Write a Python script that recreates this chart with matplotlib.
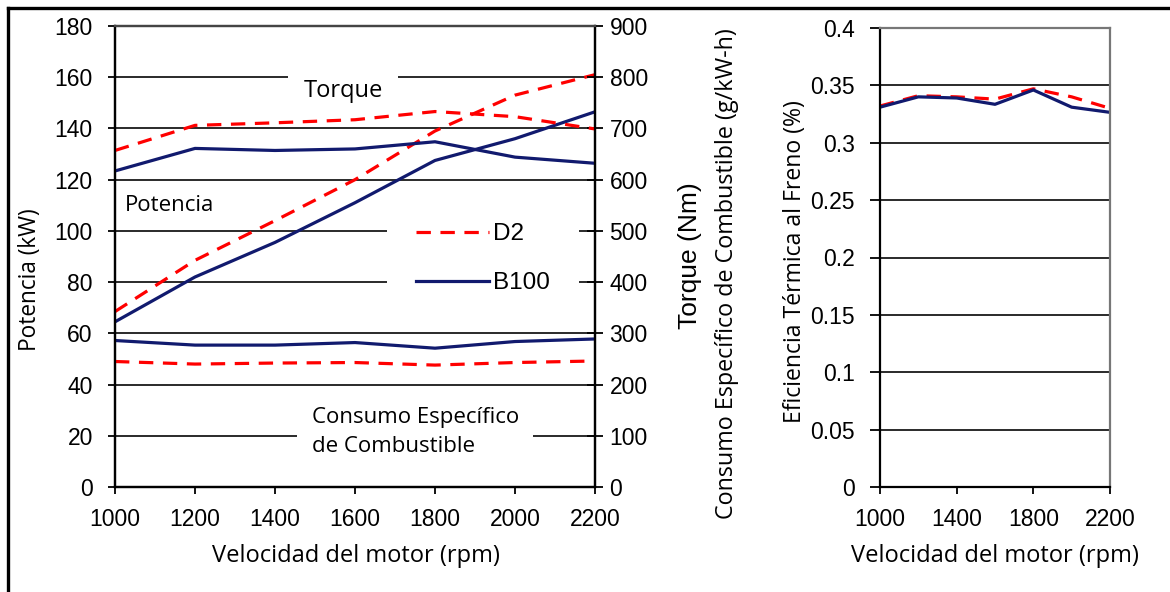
import matplotlib
matplotlib.use("Agg")
import matplotlib.pyplot as plt
from matplotlib.lines import Line2D

# Engine test data: D2 diesel vs. B100 biodiesel
rpm = [1000, 1200, 1400, 1600, 1800, 2000, 2200]
power_d2 = [68.5, 88.5, 104, 120, 139, 153, 161]          # kW
power_b100 = [64.5, 82, 95.5, 111, 127.5, 136, 146.5]     # kW
torque_d2 = [657, 706, 711, 717, 733, 723, 699]           # Nm
torque_b100 = [617, 661, 657, 660, 674, 644, 632]         # Nm
bsfc_d2 = [245, 240, 242, 243, 238, 243, 246]             # g/kW-h
bsfc_b100 = [286, 277, 277, 282, 271, 284, 289]           # g/kW-h
bte_d2 = [0.332, 0.341, 0.340, 0.338, 0.347, 0.340, 0.330]
bte_b100 = [0.331, 0.340, 0.339, 0.3335, 0.346, 0.331, 0.3265]

left_ticks = list(range(0, 181, 20))
right_ticks = list(range(0, 901, 100))
x_ticks_main = [1000, 1200, 1400, 1600, 1800, 2000, 2200]
x_ticks_eff = [1000, 1400, 1800, 2200]
eff_ticks = [0, 0.05, 0.1, 0.15, 0.2, 0.25, 0.3, 0.35, 0.4]
eff_labels = ["0", "0.05", "0.1", "0.15", "0.2", "0.25", "0.3", "0.35", "0.4"]

RED = "#ff0000"
NAVY = "#111a6e"
TICK_FONT = "Liberation Sans"
TEXT_FONT = "Open Sans"
TICK_SIZE = 16.5

W, H = 1170, 592
fig = plt.figure(figsize=(W / 100, H / 100), dpi=100)


def fx(px):
    return px / W


def fy(py):
    return 1 - py / H


dash = dict(linestyle=(0, (4.5, 3.0)), lw=2.3, color=RED)
solid = dict(linestyle="-", lw=2.3, color=NAVY)

# ---- main panel: power (left) and torque / BSFC (right) ----
ax = fig.add_axes([fx(115), fy(487), fx(595) - fx(115), fy(26) - fy(487)])
ax2 = ax.twinx()

ax.set_xlim(1000, 2200)
ax.set_ylim(0, 180)
ax2.set_ylim(0, 900)
ax.set_xticks(x_ticks_main)
ax.set_yticks(left_ticks)
ax2.set_yticks(right_ticks)

ax.yaxis.grid(True, color="#2a2a2a", lw=1.4, zorder=0)
ax.set_axisbelow(True)

for a in (ax, ax2):
    for s in a.spines.values():
        s.set_linewidth(1.6)
        s.set_color("black")
    a.spines["top"].set_color("#444444")

ax.tick_params(axis="y", direction="out", length=5, width=1.3, pad=11,
               labelsize=TICK_SIZE)
ax.tick_params(axis="x", direction="out", length=5, width=1.3, pad=10,
               labelsize=TICK_SIZE)
ax2.tick_params(axis="y", direction="inout", length=11, width=1.3, pad=5,
                labelsize=TICK_SIZE)
for lab in ax.get_xticklabels() + ax.get_yticklabels() + ax2.get_yticklabels():
    lab.set_fontfamily(TICK_FONT)

ax.plot(rpm, power_d2, **dash)
ax.plot(rpm, power_b100, **solid)
ax2.plot(rpm, torque_d2, **dash)
ax2.plot(rpm, torque_b100, **solid)
ax2.plot(rpm, bsfc_d2, **dash)
ax2.plot(rpm, bsfc_b100, **solid)

box = dict(facecolor="white", edgecolor="none", boxstyle="square,pad=0.65")
ax.text(1570, 154.6, "Torque", fontsize=17, family=TEXT_FONT,
        ha="center", va="center", bbox=box, zorder=2)
ax.text(1025, 109.8, "Potencia", fontsize=16, family=TEXT_FONT,
        ha="left", va="center", zorder=2)
ax.text(1492, 21.5, "Consumo Específico\nde Combustible", fontsize=16,
        family=TEXT_FONT, ha="left", va="center", linespacing=1.55,
        bbox=dict(facecolor="white", edgecolor="none",
                  boxstyle="square,pad=0.65"), zorder=2)

handles = [Line2D([], [], **dash), Line2D([], [], **solid)]
leg = ax2.legend(handles, ["D2", "B100"], loc="upper left",
                 bbox_to_anchor=(0.567, 0.635), borderaxespad=0,
                 frameon=True, fancybox=False, framealpha=1,
                 prop=dict(family=TICK_FONT, size=17.5),
                 handlelength=3.0, handletextpad=0.15, labelspacing=1.1,
                 borderpad=1.2)
leg.get_frame().set_edgecolor("none")
leg.get_frame().set_facecolor("white")

fig.text(fx(355.5), fy(556), "Velocidad del motor (rpm)", fontsize=17,
         family=TEXT_FONT, ha="center", va="center")
fig.text(fx(30), fy(280), "Potencia (kW)", fontsize=16.3, family=TEXT_FONT,
         rotation=90, ha="center", va="center")
fig.text(fx(690), fy(256), "Torque (Nm)", fontsize=19, family=TICK_FONT,
         rotation=90, ha="center", va="center")
fig.text(fx(727), fy(274), "Consumo Específico de Combustible (g/kW-h)",
         fontsize=16.8, family=TEXT_FONT, rotation=90, ha="center",
         va="center")

# ---- efficiency panel ----
ax3 = fig.add_axes([fx(880), fy(487), fx(1110) - fx(880), fy(28) - fy(487)])
ax3.set_xlim(1000, 2200)
ax3.set_ylim(0, 0.4)
ax3.set_xticks(x_ticks_eff)
ax3.set_yticks(eff_ticks)
ax3.set_yticklabels(eff_labels)
ax3.yaxis.grid(True, color="#2a2a2a", lw=1.4, zorder=0)
ax3.set_axisbelow(True)
for s in ax3.spines.values():
    s.set_linewidth(1.6)
ax3.spines["left"].set_color("black")
ax3.spines["bottom"].set_color("black")
ax3.spines["right"].set_color("#777777")
ax3.spines["top"].set_color("#777777")
ax3.tick_params(axis="y", direction="out", length=7, width=1.3, pad=11,
                labelsize=TICK_SIZE)
ax3.tick_params(axis="x", direction="out", length=5, width=1.3, pad=10,
                labelsize=TICK_SIZE)
for lab in ax3.get_xticklabels() + ax3.get_yticklabels():
    lab.set_fontfamily(TICK_FONT)

ax3.plot(rpm, bte_d2, **dash)
ax3.plot(rpm, bte_b100, **solid)

fig.text(fx(994.5), fy(556), "Velocidad del motor (rpm)", fontsize=17,
         family=TEXT_FONT, ha="center", va="center")
fig.text(fx(795), fy(262), "Eficiencia Térmica al Freno (%)", fontsize=16.6,
         family=TEXT_FONT, rotation=90, ha="center", va="center")

# outer frame (left and top edges)
fig.add_artist(Line2D([fx(8), fx(8)], [0, fy(8)], color="black", lw=2.4,
                      transform=fig.transFigure))
fig.add_artist(Line2D([fx(8), 1], [fy(8), fy(8)], color="black", lw=2.4,
                      transform=fig.transFigure))

fig.savefig("out.png", dpi=100)
